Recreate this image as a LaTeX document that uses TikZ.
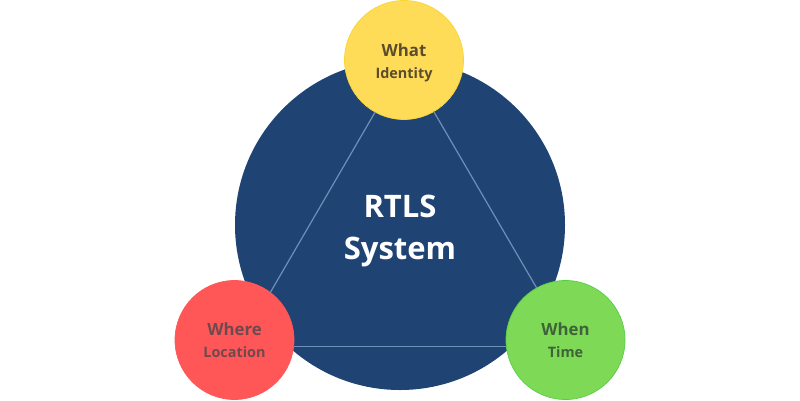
\documentclass[tikz,border=0pt]{standalone}
\usepackage{fontspec}
\setmainfont{Open Sans}
\definecolor{navy}{HTML}{1F4474}
\definecolor{yel}{HTML}{FFDC58}
\definecolor{yelb}{HTML}{F7D532}
\definecolor{redc}{HTML}{FF5757}
\definecolor{grn}{HTML}{7ED957}
\definecolor{grnb}{HTML}{55CF45}
\definecolor{linkc}{HTML}{6F8FB8}
\definecolor{ytext}{HTML}{5A4C2C}
\definecolor{rtext}{HTML}{6E4A4E}
\definecolor{gtext}{HTML}{3F6338}
\newcommand{\polesub}{\fontsize{14.4}{22}\selectfont}
\tikzset{
  x=1pt,y=-1pt,
  hub/.style={circle,fill=navy,minimum size=330pt,inner sep=0pt,outer sep=0pt},
  hublabel/.style={text=white,font=\bfseries\fontsize{31}{42}\selectfont,align=center},
  pole/.style={circle,minimum size=119pt,inner sep=0pt,outer sep=0pt,line width=.7pt,align=center,font=\bfseries\fontsize{16.8}{22}\selectfont},
  link/.style={draw=linkc,line width=1.2pt},
}
\begin{document}
\begin{tikzpicture}
\useasboundingbox (0,0) rectangle (800,400);
\node[hub] (sys) at (400,225) {};
\node[hublabel] (syslabel) at (400,231) {RTLS\\System};
\node[pole,fill=yel,draw=yelb,text=ytext] (what) at (404,60) {\rule{0pt}{18pt}What\\\polesub Identity};
\node[pole,fill=redc,draw=redc,text=rtext] (where) at (234.5,340) {Where\\\polesub Location};
\node[pole,fill=grn,draw=grnb,text=gtext] (when) at (565.5,340) {When\\\polesub Time};
\draw[link] (what.241) -- (where.53);
\draw[link] (what.-60) -- (when.119);
\draw[link] (where.-6) -- (when.186);
\end{tikzpicture}
\end{document}
